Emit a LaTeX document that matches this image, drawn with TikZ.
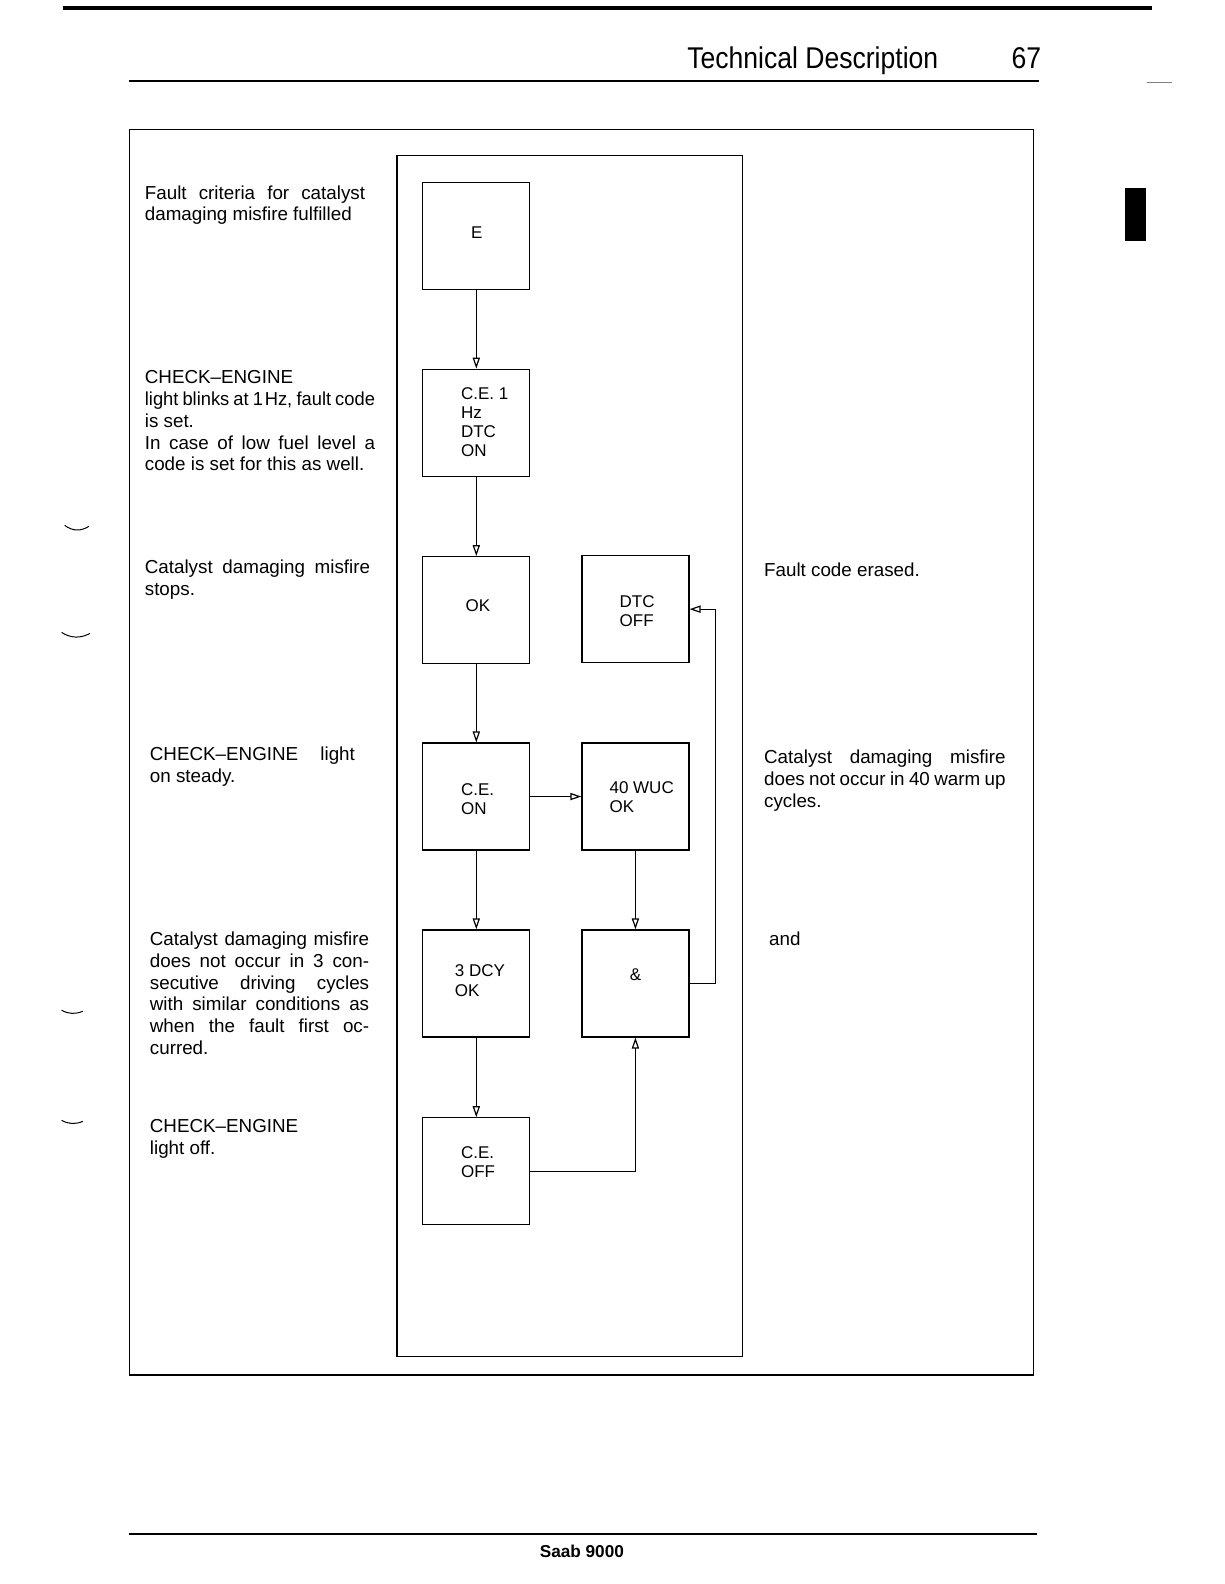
\documentclass[tikz,border=0pt]{standalone}
\usepackage{fontspec}
\usepackage{graphicx}
\setmainfont{Liberation Sans}
\usetikzlibrary{arrows.meta}
\newcommand{\jl}[2]{\makebox[#1][s]{\spaceskip=0pt\relax\xspaceskip=0pt\relax #2}}
\begin{document}
\begin{tikzpicture}[x=0.505pt,y=-0.505pt,
  box/.style={draw, line width=0.6pt, minimum width=53.5pt, minimum height=53.5pt, inner sep=0pt},
  arr/.style={line width=0.6pt, -{Triangle[open,length=5.5pt,width=3.6pt]}},
  body/.style={font=\fontsize{9.4}{10.86}\selectfont, inner sep=0pt, anchor=base west, align=flush left, text width=130pt},
  btxt/.style={font=\fontsize{8.5}{9.6}\selectfont, inner sep=0pt, anchor=base west, align=flush left, text width=50pt},
  frame/.style={draw, line width=0.8pt}]
\useasboundingbox (0,0) rectangle (1212,1568);

% page decorations
\draw[line width=2pt] (62,8) -- (1140,8);
\draw[line width=1.2pt] (128,80) -- (1028,80);
\draw[gray, line width=0.5pt] (1135,82) -- (1160,82);
\fill (1114,186.5) rectangle (1134.5,238.6);
\draw[line width=0.5pt] (64,520) .. controls (72,526) and (80,526) .. (88,521);
\draw[line width=0.5pt] (61,626) .. controls (70,632) and (80,632) .. (89,627);
\draw[line width=0.5pt] (61,1000) .. controls (68,1004) and (75,1004) .. (82,1001);
\draw[line width=0.5pt] (61,1109) .. controls (68,1113) and (75,1113) .. (82,1110);

\node[anchor=base west, inner sep=0pt, font=\fontsize{15}{18}\selectfont] (title) at (680,68) {\scalebox{0.885}[1]{Technical Description}};
\node[anchor=base west, inner sep=0pt, font=\fontsize{15}{18}\selectfont] (pageno) at (1001,68) {\scalebox{0.885}[1]{67}};

\draw[line width=1pt] (128,1518) -- (1027,1518);
\node[anchor=base, inner sep=0pt, font=\fontsize{8.6}{10}\selectfont\bfseries] (foot) at (576,1542) {Saab 9000};

% frames
\draw[frame] (128,128) rectangle (1023,1361);
\draw[line width=0.7pt] (393,154) rectangle (735,1343);

% left texts
\node[body] (t1) at (143,197) {\jl{110.1pt}{Fault criteria for catalyst}\\ damaging misfire fulfilled};
\node[body] (t2) at (143,380) {CHECK--ENGINE\\ \makebox[115.1pt][l]{\scalebox{0.975}[1]{\jl{118pt}{light blinks at 1\kern0.1em Hz, fault code}}}\\ is set.\\ \jl{115.1pt}{In case of low fuel level a}\\ code is set for this as well.};
\node[body] (t3) at (143,568) {\jl{112.6pt}{Catalyst damaging misfire}\\ stops.};
\node[body] (t4) at (148,753) {\jl{102.5pt}{CHECK--ENGINE light}\\ on steady.};
\node[body] (t5) at (148,936) {\jl{109.6pt}{Catalyst damaging misfire}\\ \jl{109.6pt}{does not occur in 3 con-}\\ \jl{109.6pt}{secutive driving cycles}\\ \jl{109.6pt}{with similar conditions as}\\ \jl{109.6pt}{when the fault first oc-}\\ curred.};
\node[body] (t6) at (148,1121) {CHECK--ENGINE\\ light off.};

% right texts
\node[body] (r1) at (756,571) {Fault code erased.};
\node[body] (r2) at (756,756) {\jl{120.7pt}{Catalyst damaging misfire}\\ \jl{120.7pt}{does not occur in 40 warm up}\\ cycles.};
\node[body] (r3) at (761,936) {and};

% boxes
\node[box] (e) at (471.5,233.5) {};
\node[box] (ce1) at (471.5,418.5) {};
\node[box] (ok) at (471.5,604) {};
\node[box] (dtc) at (629,603) {};
\node[box] (ceon) at (471.5,788.5) {};
\node[box] (wuc) at (629,788.5) {};
\node[box] (dcy) at (471.5,973.5) {};
\node[box] (and) at (629,973.5) {};
\node[box] (ceoff) at (471.5,1159.5) {};

% box texts
\node[anchor=center, inner sep=0pt, font=\fontsize{8.5}{9.6}\selectfont] (le) at (472,230) {E};
\node[btxt] (lce1) at (456,395) {C.E. 1\\ Hz\\ DTC\\ ON};
\node[anchor=center, inner sep=0pt, font=\fontsize{8.5}{9.6}\selectfont] (lok) at (473,600) {OK};
\node[btxt] (ldtc) at (613,601) {DTC\\ OFF};
\node[btxt] (lceon) at (456,787) {C.E.\\ ON};
\node[btxt] (lwuc) at (603,785) {40 WUC\\ OK};
\node[btxt] (ldcy) at (450,967) {3 DCY\\ OK};
\node[anchor=center, inner sep=0pt, font=\fontsize{8.5}{9.6}\selectfont] (land) at (629,965) {\&};
\node[btxt] (lceoff) at (456,1147) {C.E.\\ OFF};

% connectors
\draw[arr] (e) -- (ce1);
\draw[arr] (ce1) -- (ok);
\draw[arr] (ok) -- (ceon);
\draw[arr] (ceon) -- (dcy);
\draw[arr] (dcy) -- (ceoff);
\draw[arr] (ceon) -- (wuc);
\draw[arr] (wuc) -- (and);
\draw[arr] (ceoff.east) -| (and.south);
\draw[arr] (and.east) -- ++(26,0) |- (dtc.east);
\end{tikzpicture}
\end{document}
